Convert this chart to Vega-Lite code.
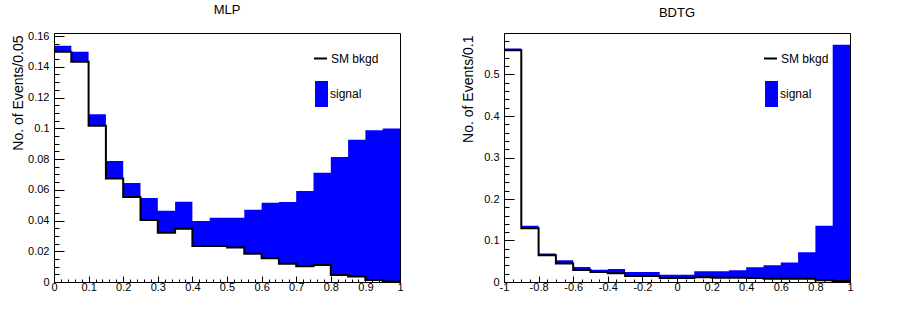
{
  "$schema": "https://vega.github.io/schema/vega-lite/v6.json",
  "padding": {"left": 10, "top": 3, "right": 5, "bottom": 5},
  "background": "white",
  "spacing": 104,
  "bounds": "flush",
  "config": {
    "font": "Liberation Sans",
    "view": {"stroke": "black", "strokeWidth": 1},
    "axis": {"grid": false, "domainColor": "black", "tickColor": "black", "labelColor": "black", "labelFont": "Liberation Sans", "labelFontSize": 11, "titleFont": "Liberation Sans", "titleFontSize": 14, "titleFontWeight": "normal", "titleColor": "black", "labelFlush": false, "labelOverlap": false, "tickWidth": 1, "domainWidth": 1, "zindex": 1},
    "title": {"font": "Liberation Sans", "fontSize": 13, "fontWeight": "normal", "color": "black", "offset": 13},
    "legend": {"orient": "none", "title": null, "labelFont": "Liberation Sans", "labelFontSize": 12, "labelColor": "black", "padding": 0}
  },
  "resolve": {"scale": {"color": "independent", "strokeDash": "independent"}, "legend": {"color": "independent", "strokeDash": "independent"}},
  "hconcat": [
    {
      "width": 346, "height": 249,
      "title": "MLP",
      "data": {"values": [
        {"lo": 0, "sig": 0.1537, "bkg": 0.1498},
        {"lo": 0.05, "sig": 0.1498, "bkg": 0.1433},
        {"lo": 0.1, "sig": 0.1091, "bkg": 0.1017},
        {"lo": 0.15, "sig": 0.0787, "bkg": 0.0674},
        {"lo": 0.2, "sig": 0.0644, "bkg": 0.0553},
        {"lo": 0.25, "sig": 0.0546, "bkg": 0.0403},
        {"lo": 0.3, "sig": 0.0464, "bkg": 0.0321},
        {"lo": 0.35, "sig": 0.0522, "bkg": 0.0347},
        {"lo": 0.4, "sig": 0.0397, "bkg": 0.0234},
        {"lo": 0.45, "sig": 0.0418, "bkg": 0.0234},
        {"lo": 0.5, "sig": 0.0418, "bkg": 0.0225},
        {"lo": 0.55, "sig": 0.0470, "bkg": 0.0184},
        {"lo": 0.6, "sig": 0.0516, "bkg": 0.0154},
        {"lo": 0.65, "sig": 0.0520, "bkg": 0.0119},
        {"lo": 0.7, "sig": 0.0592, "bkg": 0.0102},
        {"lo": 0.75, "sig": 0.0711, "bkg": 0.0111},
        {"lo": 0.8, "sig": 0.0813, "bkg": 0.0046},
        {"lo": 0.85, "sig": 0.0926, "bkg": 0.0035},
        {"lo": 0.9, "sig": 0.0987, "bkg": 0.0013},
        {"lo": 0.95, "sig": 0.0999, "bkg": 0.0004},
        {"lo": 1, "sig": 0.0999, "bkg": 0.0004}
      ]},
      "encoding": {
        "x": {"field": "lo", "type": "quantitative", "scale": {"domain": [0, 1], "nice": false, "zero": false},
          "axis": {"title": null, "labelFlush": false, "labelOverlap": false, "zindex": 1,
            "values": [0,0.02,0.04,0.06,0.08,0.1,0.12,0.14,0.16,0.18,0.2,0.22,0.24,0.26,0.28,0.3,0.32,0.34,0.36,0.38,0.4,0.42,0.44,0.46,0.48,0.5,0.52,0.54,0.56,0.58,0.6,0.62,0.64,0.66,0.68,0.7,0.72,0.74,0.76,0.78,0.8,0.82,0.84,0.86,0.88,0.9,0.92,0.94,0.96,0.98,1],
            "labelExpr": "abs(datum.value*10-round(datum.value*10))<1e-6 ? datum.value + '' : ''",
            "tickSize": -6,
            "tickDash": {"condition": {"test": "abs(datum.value*10-round(datum.value*10))<1e-6", "value": [6, 0]}, "value": [3, 10]},
            "labelPadding": 5}}
      },
      "layer": [
        {
          "mark": {"type": "area", "interpolate": "step-after"},
          "encoding": {
            "y": {"field": "sig", "type": "quantitative", "scale": {"domain": [0, 0.162], "nice": false},
              "axis": {"title": "No. of Events/0.05", "titleAnchor": "end", "titleX": -29, "titleY": 2, "titleAlign": "right", "titleBaseline": "bottom", "titleAngle": -90,
                "labelFlush": false, "labelOverlap": false, "zindex": 1,
                "values": [0,0.005,0.01,0.015,0.02,0.025,0.03,0.035,0.04,0.045,0.05,0.055,0.06,0.065,0.07,0.075,0.08,0.085,0.09,0.095,0.1,0.105,0.11,0.115,0.12,0.125,0.13,0.135,0.14,0.145,0.15,0.155,0.16],
                "labelExpr": "abs(datum.value*50-round(datum.value*50))<1e-6 ? datum.value + '' : ''",
                "tickSize": -10,
                "tickDash": {"condition": {"test": "abs(datum.value*50-round(datum.value*50))<1e-6", "value": [10, 0]}, "value": [5, 20]},
                "labelPadding": 15}},
            "y2": {"datum": 0},
            "color": {"datum": "signal", "type": "nominal", "scale": {"domain": ["signal"], "range": ["blue"]},
              "legend": {"legendX": 254.5, "legendY": 48, "labelOffset": -4.5, "symbolType": "M-0.5,-1H0.5V1H-0.5Z", "symbolSize": 676, "symbolStrokeWidth": 0, "symbolOpacity": 1}}
          }
        },
        {
          "mark": {"type": "area", "interpolate": "step-after", "color": "white"},
          "encoding": {
            "y": {"field": "bkg", "type": "quantitative",
              "axis": {"title": "No. of Events/0.05", "titleAnchor": "end", "titleX": -29, "titleY": 2, "titleAlign": "right", "titleBaseline": "bottom", "titleAngle": -90,
                "labelFlush": false, "labelOverlap": false, "zindex": 1,
                "values": [0,0.005,0.01,0.015,0.02,0.025,0.03,0.035,0.04,0.045,0.05,0.055,0.06,0.065,0.07,0.075,0.08,0.085,0.09,0.095,0.1,0.105,0.11,0.115,0.12,0.125,0.13,0.135,0.14,0.145,0.15,0.155,0.16],
                "labelExpr": "abs(datum.value*50-round(datum.value*50))<1e-6 ? datum.value + '' : ''",
                "tickSize": -10,
                "tickDash": {"condition": {"test": "abs(datum.value*50-round(datum.value*50))<1e-6", "value": [10, 0]}, "value": [5, 20]},
                "labelPadding": 15}},
            "y2": {"datum": 0}
          }
        },
        {
          "mark": {"type": "line", "interpolate": "step-after", "strokeWidth": 2, "color": "black"},
          "encoding": {
            "y": {"field": "bkg", "type": "quantitative",
              "axis": {"title": "No. of Events/0.05", "titleAnchor": "end", "titleX": -29, "titleY": 2, "titleAlign": "right", "titleBaseline": "bottom", "titleAngle": -90,
                "labelFlush": false, "labelOverlap": false, "zindex": 1,
                "values": [0,0.005,0.01,0.015,0.02,0.025,0.03,0.035,0.04,0.045,0.05,0.055,0.06,0.065,0.07,0.075,0.08,0.085,0.09,0.095,0.1,0.105,0.11,0.115,0.12,0.125,0.13,0.135,0.14,0.145,0.15,0.155,0.16],
                "labelExpr": "abs(datum.value*50-round(datum.value*50))<1e-6 ? datum.value + '' : ''",
                "tickSize": -10,
                "tickDash": {"condition": {"test": "abs(datum.value*50-round(datum.value*50))<1e-6", "value": [10, 0]}, "value": [5, 20]},
                "labelPadding": 15}},
            "strokeDash": {"datum": "SM bkgd", "type": "nominal", "scale": {"domain": ["SM bkgd"], "range": [[1, 0]]},
              "legend": {"legendX": 259, "legendY": 18, "labelOffset": 3, "symbolType": "stroke", "symbolSize": 169, "symbolStrokeWidth": 2, "symbolStrokeColor": "black"}}
          }
        }
      ]
    },
    {
      "width": 346, "height": 249,
      "title": "BDTG",
      "data": {"values": [
        {"lo": -1, "sig": 0.5628, "bkg": 0.5587},
        {"lo": -0.9, "sig": 0.1353, "bkg": 0.1296},
        {"lo": -0.8, "sig": 0.0685, "bkg": 0.0644},
        {"lo": -0.7, "sig": 0.0523, "bkg": 0.0443},
        {"lo": -0.6, "sig": 0.0362, "bkg": 0.029},
        {"lo": -0.5, "sig": 0.0298, "bkg": 0.0242},
        {"lo": -0.4, "sig": 0.0314, "bkg": 0.021},
        {"lo": -0.3, "sig": 0.0242, "bkg": 0.0145},
        {"lo": -0.2, "sig": 0.0242, "bkg": 0.0145},
        {"lo": -0.1, "sig": 0.0177, "bkg": 0.0097},
        {"lo": 0, "sig": 0.0177, "bkg": 0.0097},
        {"lo": 0.1, "sig": 0.0258, "bkg": 0.0113},
        {"lo": 0.2, "sig": 0.0258, "bkg": 0.0105},
        {"lo": 0.3, "sig": 0.0282, "bkg": 0.0105},
        {"lo": 0.4, "sig": 0.0354, "bkg": 0.0097},
        {"lo": 0.5, "sig": 0.0403, "bkg": 0.008},
        {"lo": 0.6, "sig": 0.0467, "bkg": 0.008},
        {"lo": 0.7, "sig": 0.0717, "bkg": 0.008},
        {"lo": 0.8, "sig": 0.1353, "bkg": 0.004},
        {"lo": 0.9, "sig": 0.5717, "bkg": 0.0024},
        {"lo": 1, "sig": 0.5717, "bkg": 0.0024}
      ]},
      "encoding": {
        "x": {"field": "lo", "type": "quantitative", "scale": {"domain": [-1, 1], "nice": false, "zero": false},
          "axis": {"title": null, "labelFlush": false, "labelOverlap": false, "zindex": 1,
            "values": [-1,-0.95,-0.9,-0.85,-0.8,-0.75,-0.7,-0.65,-0.6,-0.55,-0.5,-0.45,-0.4,-0.35,-0.3,-0.25,-0.2,-0.15,-0.1,-0.05,0,0.05,0.1,0.15,0.2,0.25,0.3,0.35,0.4,0.45,0.5,0.55,0.6,0.65,0.7,0.75,0.8,0.85,0.9,0.95,1],
            "labelExpr": "abs(datum.value*5-round(datum.value*5))<1e-6 ? datum.value + '' : ''",
            "tickSize": -6,
            "tickDash": {"condition": {"test": "abs(datum.value*5-round(datum.value*5))<1e-6", "value": [6, 0]}, "value": [3, 10]},
            "labelPadding": 5}}
      },
      "layer": [
        {
          "mark": {"type": "area", "interpolate": "step-after"},
          "encoding": {
            "y": {"field": "sig", "type": "quantitative", "scale": {"domain": [0, 0.6], "nice": false},
              "axis": {"title": "No. of Events/0.1", "titleAnchor": "end", "titleX": -29, "titleY": 2, "titleAlign": "right", "titleBaseline": "bottom", "titleAngle": -90,
                "labelFlush": false, "labelOverlap": false, "zindex": 1,
                "values": [0,0.02,0.04,0.06,0.08,0.1,0.12,0.14,0.16,0.18,0.2,0.22,0.24,0.26,0.28,0.3,0.32,0.34,0.36,0.38,0.4,0.42,0.44,0.46,0.48,0.5,0.52,0.54,0.56,0.58],
                "labelExpr": "abs(datum.value*10-round(datum.value*10))<1e-6 ? datum.value + '' : ''",
                "tickSize": -10,
                "tickDash": {"condition": {"test": "abs(datum.value*10-round(datum.value*10))<1e-6", "value": [10, 0]}, "value": [5, 20]},
                "labelPadding": 15}},
            "y2": {"datum": 0},
            "color": {"datum": "signal", "type": "nominal", "scale": {"domain": ["signal"], "range": ["blue"]},
              "legend": {"legendX": 254.5, "legendY": 48, "labelOffset": -4.5, "symbolType": "M-0.5,-1H0.5V1H-0.5Z", "symbolSize": 676, "symbolStrokeWidth": 0, "symbolOpacity": 1}}
          }
        },
        {
          "mark": {"type": "area", "interpolate": "step-after", "color": "white"},
          "encoding": {
            "y": {"field": "bkg", "type": "quantitative",
              "axis": {"title": "No. of Events/0.1", "titleAnchor": "end", "titleX": -29, "titleY": 2, "titleAlign": "right", "titleBaseline": "bottom", "titleAngle": -90,
                "labelFlush": false, "labelOverlap": false, "zindex": 1,
                "values": [0,0.02,0.04,0.06,0.08,0.1,0.12,0.14,0.16,0.18,0.2,0.22,0.24,0.26,0.28,0.3,0.32,0.34,0.36,0.38,0.4,0.42,0.44,0.46,0.48,0.5,0.52,0.54,0.56,0.58],
                "labelExpr": "abs(datum.value*10-round(datum.value*10))<1e-6 ? datum.value + '' : ''",
                "tickSize": -10,
                "tickDash": {"condition": {"test": "abs(datum.value*10-round(datum.value*10))<1e-6", "value": [10, 0]}, "value": [5, 20]},
                "labelPadding": 15}},
            "y2": {"datum": 0}
          }
        },
        {
          "mark": {"type": "line", "interpolate": "step-after", "strokeWidth": 2, "color": "black"},
          "encoding": {
            "y": {"field": "bkg", "type": "quantitative",
              "axis": {"title": "No. of Events/0.1", "titleAnchor": "end", "titleX": -29, "titleY": 2, "titleAlign": "right", "titleBaseline": "bottom", "titleAngle": -90,
                "labelFlush": false, "labelOverlap": false, "zindex": 1,
                "values": [0,0.02,0.04,0.06,0.08,0.1,0.12,0.14,0.16,0.18,0.2,0.22,0.24,0.26,0.28,0.3,0.32,0.34,0.36,0.38,0.4,0.42,0.44,0.46,0.48,0.5,0.52,0.54,0.56,0.58],
                "labelExpr": "abs(datum.value*10-round(datum.value*10))<1e-6 ? datum.value + '' : ''",
                "tickSize": -10,
                "tickDash": {"condition": {"test": "abs(datum.value*10-round(datum.value*10))<1e-6", "value": [10, 0]}, "value": [5, 20]},
                "labelPadding": 15}},
            "strokeDash": {"datum": "SM bkgd", "type": "nominal", "scale": {"domain": ["SM bkgd"], "range": [[1, 0]]},
              "legend": {"legendX": 259, "legendY": 18, "labelOffset": 3, "symbolType": "stroke", "symbolSize": 169, "symbolStrokeWidth": 2, "symbolStrokeColor": "black"}}
          }
        }
      ]
    }
  ]
}
